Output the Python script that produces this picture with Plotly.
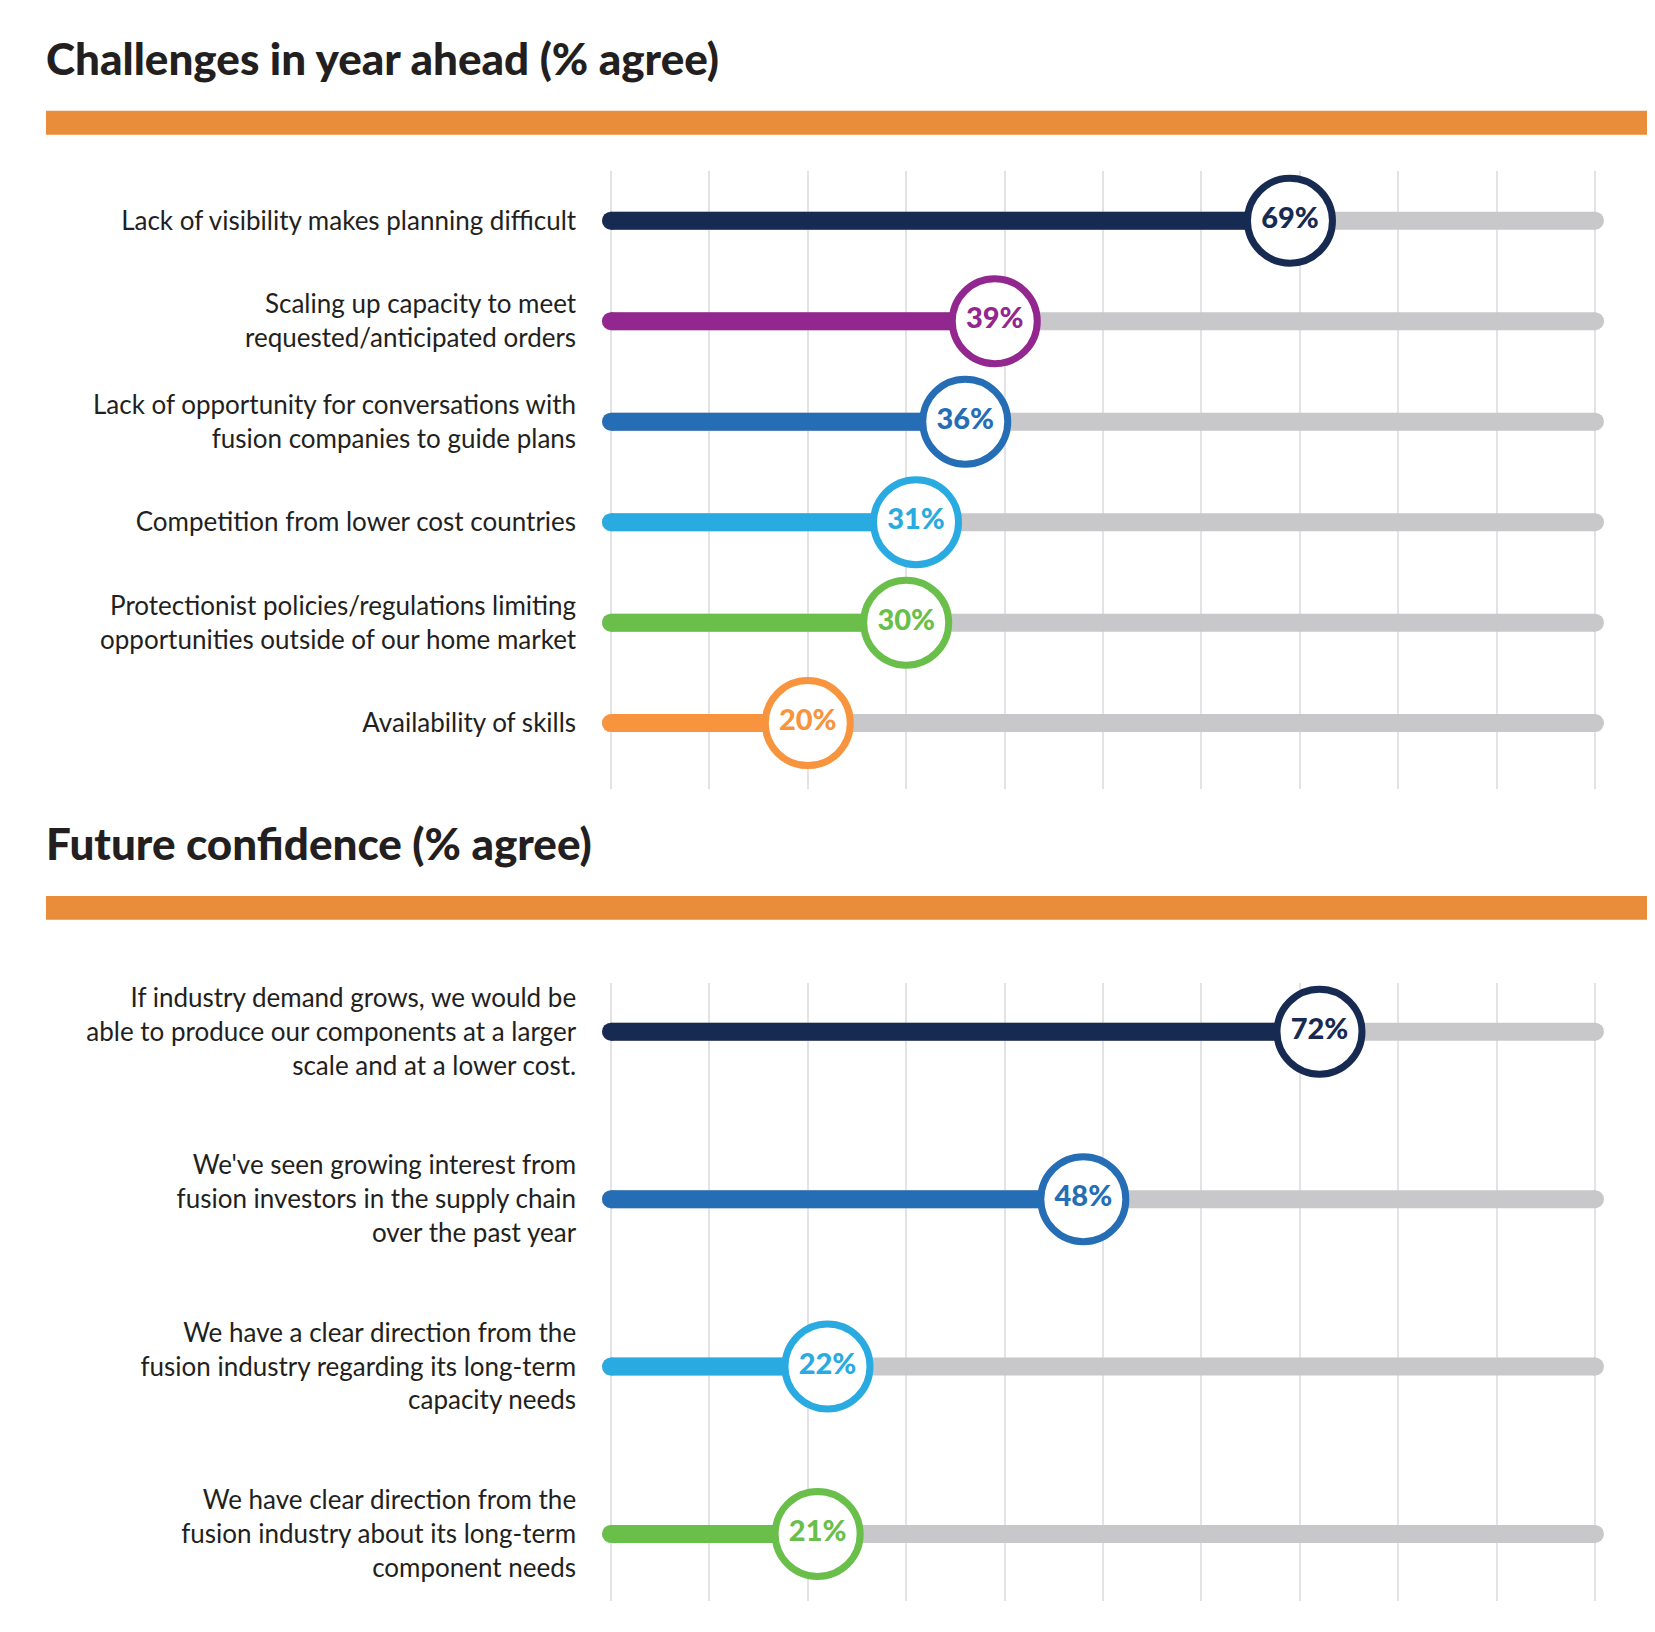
import plotly.graph_objects as go

W, H = 1655, 1632

# ---------------- data ----------------
top_title = "Challenges in year ahead (% agree)"
top_labels = [
    "Lack of visibility makes planning difficult",
    "Scaling up capacity to meet<br>requested/anticipated orders",
    "Lack of opportunity for conversations with<br>fusion companies to guide plans",
    "Competition from lower cost countries",
    "Protectionist policies/regulations limiting<br>opportunities outside of our home market",
    "Availability of skills",
]
top_values = [69, 39, 36, 31, 30, 20]
top_colors = ["#172a52", "#92278f", "#256db5", "#29abe2", "#6abf4b", "#f7943d"]

bot_title = "Future confidence (% agree)"
bot_labels = [
    "If industry demand grows, we would be<br>able to produce our components at a larger<br>scale and at a lower cost.",
    "We've seen growing interest from<br>fusion investors in the supply chain<br>over the past year",
    "We have a clear direction from the<br>fusion industry regarding its long-term<br>capacity needs",
    "We have clear direction from the<br>fusion industry about its long-term<br>component needs",
]
bot_values = [72, 48, 22, 21]
bot_colors = ["#172a52", "#256db5", "#29abe2", "#6abf4b"]

TRACK = "#c8c8ca"
GRID = "#e3e3e7"
HEADER = "#e98d3a"
TEXT = "#231f20"
LABEL_FONT = "Lato"
TITLE_FONT = "Lato"

fig = go.Figure()


def add_panel(labels, values, colors, xa, ya):
    n = len(labels)
    for i in range(n):
        # grey track
        fig.add_trace(go.Scatter(
            x=[0, 100], y=[i, i], mode="lines+markers", xaxis=xa, yaxis=ya,
            line=dict(color=TRACK, width=18),
            marker=dict(color=TRACK, size=18), hoverinfo="skip", showlegend=False,
            cliponaxis=False))
        # coloured bar
        fig.add_trace(go.Scatter(
            x=[0, values[i]], y=[i, i], mode="lines+markers", xaxis=xa, yaxis=ya,
            line=dict(color=colors[i], width=18),
            marker=dict(color=colors[i], size=18), hoverinfo="skip", showlegend=False,
            cliponaxis=False))
    # circles with values
    fig.add_trace(go.Scatter(
        x=values, y=list(range(n)), mode="markers+text", xaxis=xa, yaxis=ya,
        marker=dict(size=85, color="white", line=dict(color=colors, width=7)),
        text=[f"{v}%" for v in values], textposition="middle center",
        textfont=dict(family=TITLE_FONT, size=29, color=colors, weight=900),
        hoverinfo="skip", showlegend=False, cliponaxis=False))


add_panel(top_labels, top_values, top_colors, "x", "y")
add_panel(bot_labels, bot_values, bot_colors, "x2", "y2")


def px_x(p):
    return p / W


def px_y(p):
    return 1 - p / H


# axes geometry (pixels): value 0 at 611 px, 100 at 1595 px
x0_px, x100_px = 611, 1595
u = (x100_px - x0_px) / 100
xr = [-2, 102]
xdom = [px_x(x0_px + xr[0] * u), px_x(x0_px + xr[1] * u)]

xaxis_common = dict(range=xr, showgrid=True, gridcolor=GRID, gridwidth=1.5,
                    tick0=0, dtick=10, showticklabels=False, zeroline=False,
                    showline=False, fixedrange=True)

# top panel: rows at 219 px, spacing 100.6, grid from 169 to 788
r0, sp = 219, 100.6
g_top, g_bot = 169, 788
yr_top = [(g_bot - r0) / sp, (g_top - r0) / sp]
# bottom panel: rows at 1031 px spacing 167.6, grid from 982 to 1601
r0b, spb = 1031, 167.6
g_topb, g_botb = 982, 1601
yr_bot = [(g_botb - r0b) / spb, (g_topb - r0b) / spb]

yaxis_common = dict(showgrid=False, zeroline=False, showline=False,
                    ticks="outside", ticklen=9, tickcolor="rgba(0,0,0,0)",
                    tickfont=dict(family=LABEL_FONT, size=26, color=TEXT),
                    fixedrange=True)

fig.update_layout(
    width=W, height=H, margin=dict(l=0, r=0, t=0, b=0),
    paper_bgcolor="white", plot_bgcolor="white",
    xaxis=dict(domain=xdom, anchor="y", **xaxis_common),
    yaxis=dict(domain=[px_y(g_bot), px_y(g_top)], range=yr_top, anchor="x",
               tickvals=list(range(len(top_labels))), ticktext=top_labels,
               **yaxis_common),
    xaxis2=dict(domain=xdom, anchor="y2", **xaxis_common),
    yaxis2=dict(domain=[px_y(g_botb), px_y(g_topb)], range=yr_bot, anchor="x2",
                tickvals=list(range(len(bot_labels))), ticktext=bot_labels,
                **yaxis_common),
    shapes=[
        dict(type="rect", xref="paper", yref="paper", x0=px_x(46), x1=px_x(1647),
             y0=px_y(133), y1=px_y(109), fillcolor=HEADER, line=dict(width=0), layer="below"),
        dict(type="rect", xref="paper", yref="paper", x0=px_x(46), x1=px_x(1647),
             y0=px_y(919), y1=px_y(895), fillcolor=HEADER, line=dict(width=0), layer="below"),
    ],
    annotations=[
        dict(text=top_title, xref="paper", yref="paper", x=px_x(44), y=px_y(56),
             xanchor="left", yanchor="middle", showarrow=False,
             font=dict(family=TITLE_FONT, size=44, color=TEXT, weight=900)),
        dict(text=bot_title, xref="paper", yref="paper", x=px_x(44), y=px_y(842),
             xanchor="left", yanchor="middle", showarrow=False,
             font=dict(family=TITLE_FONT, size=44, color=TEXT, weight=900)),
    ],
)

fig.write_html("out.html")
